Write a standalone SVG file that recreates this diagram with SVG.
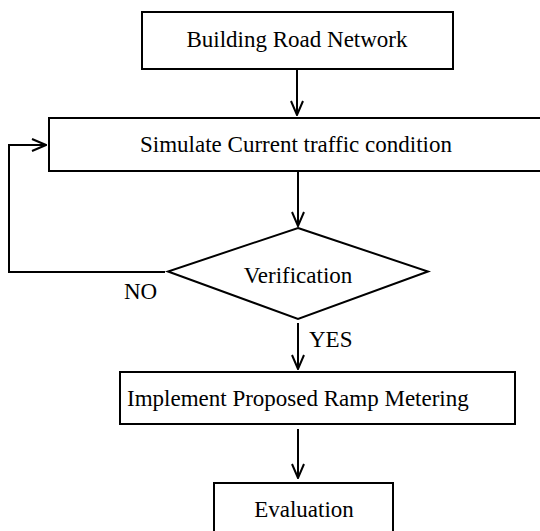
<svg xmlns="http://www.w3.org/2000/svg" width="540" height="531" viewBox="0 0 540 531">
<style>
.box{fill:#fff;stroke:#000;stroke-width:2}
.lbl{font-family:"Liberation Serif","Times New Roman",serif;font-size:23px;fill:#000}
.c{text-anchor:middle}
.ln{fill:none;stroke:#000;stroke-width:2}
</style>
<defs>
<marker id="ah" viewBox="0 0 16 14" refX="15" refY="7" markerWidth="16" markerHeight="14" markerUnits="userSpaceOnUse" orient="auto">
<path d="M1,1 L15,7 L1,13" fill="none" stroke="#000" stroke-width="2"/>
</marker>
</defs>
<rect width="540" height="531" fill="#fff"/>
<g id="connectors">
<line class="ln" x1="297" y1="69" x2="297" y2="115" marker-end="url(#ah)"/>
<line class="ln" x1="298" y1="171" x2="298" y2="226" marker-end="url(#ah)"/>
<polyline class="ln" points="165,272 9,272 9,145 46,145" marker-end="url(#ah)"/>
<line class="ln" x1="298" y1="323" x2="298" y2="369" marker-end="url(#ah)"/>
<line class="ln" x1="298" y1="429" x2="298" y2="478" marker-end="url(#ah)"/>
<text class="lbl" x="124" y="299">NO</text>
<text class="lbl" x="309" y="347">YES</text>
</g>
<g id="n1">
<rect class="box" x="142" y="12" width="311" height="57"/>
<text class="lbl c" x="297" y="47">Building Road Network</text>
</g>
<g id="n2">
<rect class="box" x="49" y="118" width="494" height="53"/>
<text class="lbl c" x="296" y="152">Simulate Current traffic condition</text>
</g>
<g id="n3">
<polygon class="box" points="298,228 428,271.5 298,319 168,271.5"/>
<text class="lbl c" x="298" y="283">Verification</text>
</g>
<g id="n4">
<rect class="box" x="120" y="372" width="395" height="52"/>
<text class="lbl" x="127" y="406">Implement Proposed Ramp Metering</text>
</g>
<g id="n5">
<rect class="box" x="214" y="483" width="179" height="60"/>
<text class="lbl c" x="304" y="517">Evaluation</text>
</g>
</svg>
